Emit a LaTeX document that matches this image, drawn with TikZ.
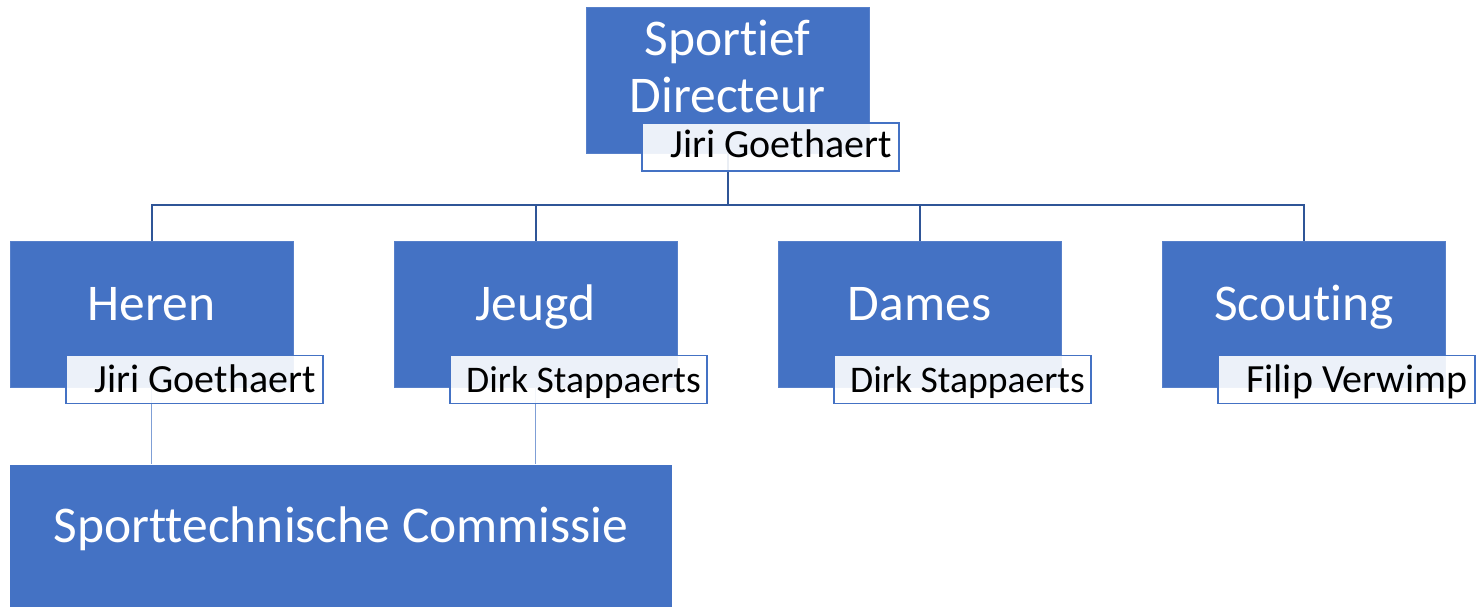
\documentclass[tikz,border=0pt]{standalone}
\usepackage{fontspec}
\setmainfont[Ligatures={NoCommon}]{Carlito}
\definecolor{boxblue}{HTML}{4472C4}
\definecolor{linedark}{HTML}{2F5597}
\definecolor{linelight}{HTML}{7F9FD6}
\begin{document}
\begin{tikzpicture}[x=1pt,y=-1pt,
  bigbox/.style={rectangle,fill=boxblue,draw=boxblue!90!white,line width=0.6pt,inner sep=0pt,minimum width=283pt,minimum height=146pt},
  lab/.style={rectangle,fill=white,fill opacity=0.9,draw=boxblue,line width=1.6pt,inner sep=0pt,minimum width=257pt,minimum height=48pt},
  bigtxt/.style={text=white,font=\fontsize{51.5}{57}\selectfont,align=center,inner sep=0pt,anchor=base},
  labtxt/.style={text=black,font=\fontsize{40}{44}\selectfont,inner sep=0pt,anchor=base},
  labsmall/.style={labtxt,font=\fontsize{37.6}{42}\selectfont},
  conn/.style={draw=linedark,line width=2pt},
  connl/.style={draw=linelight,line width=1pt}]
\useasboundingbox (0,0) rectangle (1476,607);
% boxes
\node[bigbox] (top) at (727.5,80.5) {};
\node[bigbox] (heren) at (151.5,314) {};
\node[bigbox] (jeugd) at (535.5,314) {};
\node[bigbox] (dames) at (919.5,314) {};
\node[bigbox] (scout) at (1304,314) {};
\node[rectangle,fill=boxblue,inner sep=0pt,minimum width=662pt,minimum height=145pt] (stc) at (341,537) {};
% connectors
\coordinate (bus) at (727.5,205);
\draw[conn] (top.south) -- (bus);
\draw[conn] (bus) -| (heren.north);
\draw[conn] (bus) -| (jeugd.north);
\draw[conn] (bus) -| (dames.north);
\draw[conn] (bus) -| (scout.north);
\draw[connl] (heren.south) -- (heren.south |- stc.north);
\draw[connl] (jeugd.south) -- (jeugd.south |- stc.north);
% labels
\node[lab] (ltop) at (770.5,147) {};
\node[lab] (lheren) at (194.5,379.5) {};
\node[lab] (ljeugd) at (578.5,379.5) {};
\node[lab] (ldames) at (962.5,379.5) {};
\node[lab] (lscout) at (1346.5,379.5) {};
% texts
\node[bigtxt] (ttop1) at (727.5,56) {Sportief};
\node[bigtxt] (ttop2) at (727.5,113) {Directeur};
\node[bigtxt] (theren) at (151.5,320) {Heren};
\node[bigtxt] (tjeugd) at (535.5,320) {Jeugd};
\node[bigtxt] (tdames) at (919.5,320) {Dames};
\node[bigtxt] (tscout) at (1304,320) {Scouting};
\node[bigtxt] (tstc) at (341,542) {Sporttechnische Commissie};
\node[labtxt] (tltop) at (781,158) {Jiri Goethaert};
\node[labtxt] (tlheren) at (205,392) {Jiri Goethaert};
\node[labsmall] (tljeugd) at (583.5,392) {Dirk Stappaerts};
\node[labsmall] (tldames) at (967.5,392) {Dirk Stappaerts};
\node[labtxt] (tlscout) at (1357,392) {Filip Verwimp};
\end{tikzpicture}
\end{document}
